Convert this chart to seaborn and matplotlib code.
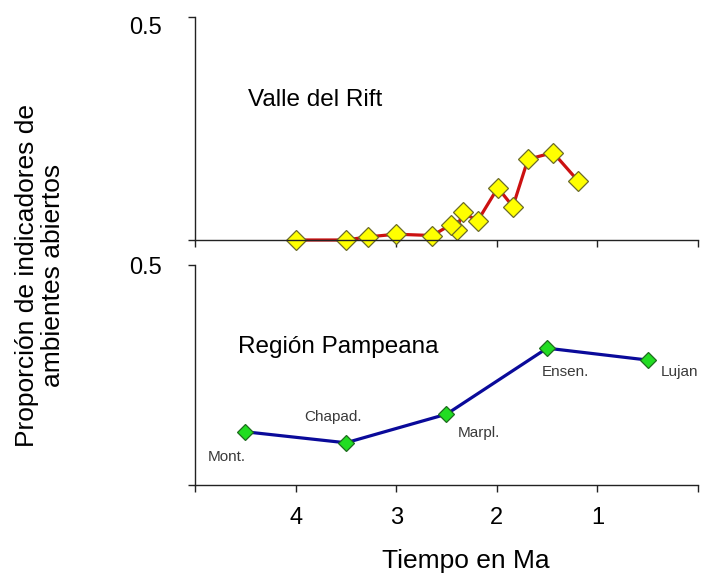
import pandas as pd
import seaborn as sns
import matplotlib.pyplot as plt

# Data
rift_ma = [4.0, 3.5, 3.28, 3.0, 2.64, 2.46, 2.4, 2.34, 2.19, 1.99, 1.84, 1.69, 1.44, 1.19]
rift_prop = [0.0, 0.0, 0.007, 0.013, 0.01, 0.034, 0.022, 0.062, 0.043, 0.117, 0.075, 0.181, 0.196, 0.132]

pampa_ma = [4.5, 3.5, 2.5, 1.5, 0.5]
pampa_prop = [0.121, 0.096, 0.161, 0.311, 0.284]
pampa_names = ["Mont.", "Chapad.", "Marpl.", "Ensen.", "Lujan"]

x_ticks = [5, 4, 3, 2, 1, 0]
x_ticklabels = ["", "4", "3", "2", "1", ""]

rift_df = pd.DataFrame({"Ma": rift_ma, "prop": rift_prop})
pampa_df = pd.DataFrame({"Ma": pampa_ma, "prop": pampa_prop, "name": pampa_names})

sns.set_theme(style="white")
plt.rcParams["font.family"] = ["Liberation Sans", "DejaVu Sans"]
plt.rcParams["text.color"] = "black"

fig = plt.figure(figsize=(7.23, 5.79), dpi=100)
ax_top = fig.add_axes([0.2697, 0.5855, 0.6957, 0.3851])
ax_bot = fig.add_axes([0.2697, 0.1623, 0.6957, 0.3800])

# top panel: Valle del Rift
sns.lineplot(data=rift_df, x="Ma", y="prop", ax=ax_top, color="#CC1111", linewidth=2.3,
             marker="D", markersize=10.5, markerfacecolor="#FFFF00",
             markeredgecolor="#6B6B2A", markeredgewidth=0.9, clip_on=False)
ax_top.text(0.105, 0.628, "Valle del Rift", transform=ax_top.transAxes,
            fontsize=17.5, va="center", ha="left", color="black")

# bottom panel: Region Pampeana
sns.lineplot(data=pampa_df, x="Ma", y="prop", ax=ax_bot, color="#0A0A9A", linewidth=2.3,
             marker="D", markersize=8.5, markerfacecolor="#22DD22",
             markeredgecolor="#1E6B1E", markeredgewidth=0.9, clip_on=False)
ax_bot.text(0.085, 0.627, "Región Pampeana", transform=ax_bot.transAxes,
            fontsize=17.5, va="center", ha="left", color="black")

# label offsets in pixels (dx, dy)
offsets = [(-19, -25), (-13, 26), (32, -19), (18, -24), (32, -12)]
for (xv, yv, nm), (dx, dy) in zip(zip(pampa_ma, pampa_prop, pampa_names), offsets):
    ax_bot.annotate(nm, (xv, yv), xytext=(dx, dy), textcoords="offset pixels",
                    ha="center", va="center", fontsize=11, color="#3A3A3A")

for ax in (ax_top, ax_bot):
    ax.set_xlim(5, 0)
    ax.set_ylim(0, 0.5)
    ax.set_xticks(x_ticks)
    ax.set_yticks([0, 0.5])
    ax.set_yticklabels(["", "0.5"])
    ax.set_xlabel("")
    ax.set_ylabel("")
    sns.despine(ax=ax)
    for s in ("left", "bottom"):
        ax.spines[s].set_color("#222222")
        ax.spines[s].set_linewidth(1.0)
    ax.tick_params(axis="both", direction="out", length=5, width=1.0, color="#222222",
                   labelsize=17, labelcolor="black", bottom=True, left=True)
    ax.tick_params(axis="y", pad=19)
    ax.tick_params(axis="x", pad=11)
    ax.set_facecolor("white")

ax_top.set_xticklabels([])
ax_bot.set_xticklabels(x_ticklabels)
for lab in ax_top.get_yticklabels():
    lab.set_va("top")

fig.text(0.0553, 0.525, "Proporción de indicadores de\nambientes abiertos",
         rotation=90, ha="center", va="center", fontsize=19, linespacing=1.1, color="black")
fig.text(0.6445, 0.019, "Tiempo en Ma", ha="center", va="baseline", fontsize=19, color="black")

plt.savefig("out.png", dpi=100, facecolor="white")
